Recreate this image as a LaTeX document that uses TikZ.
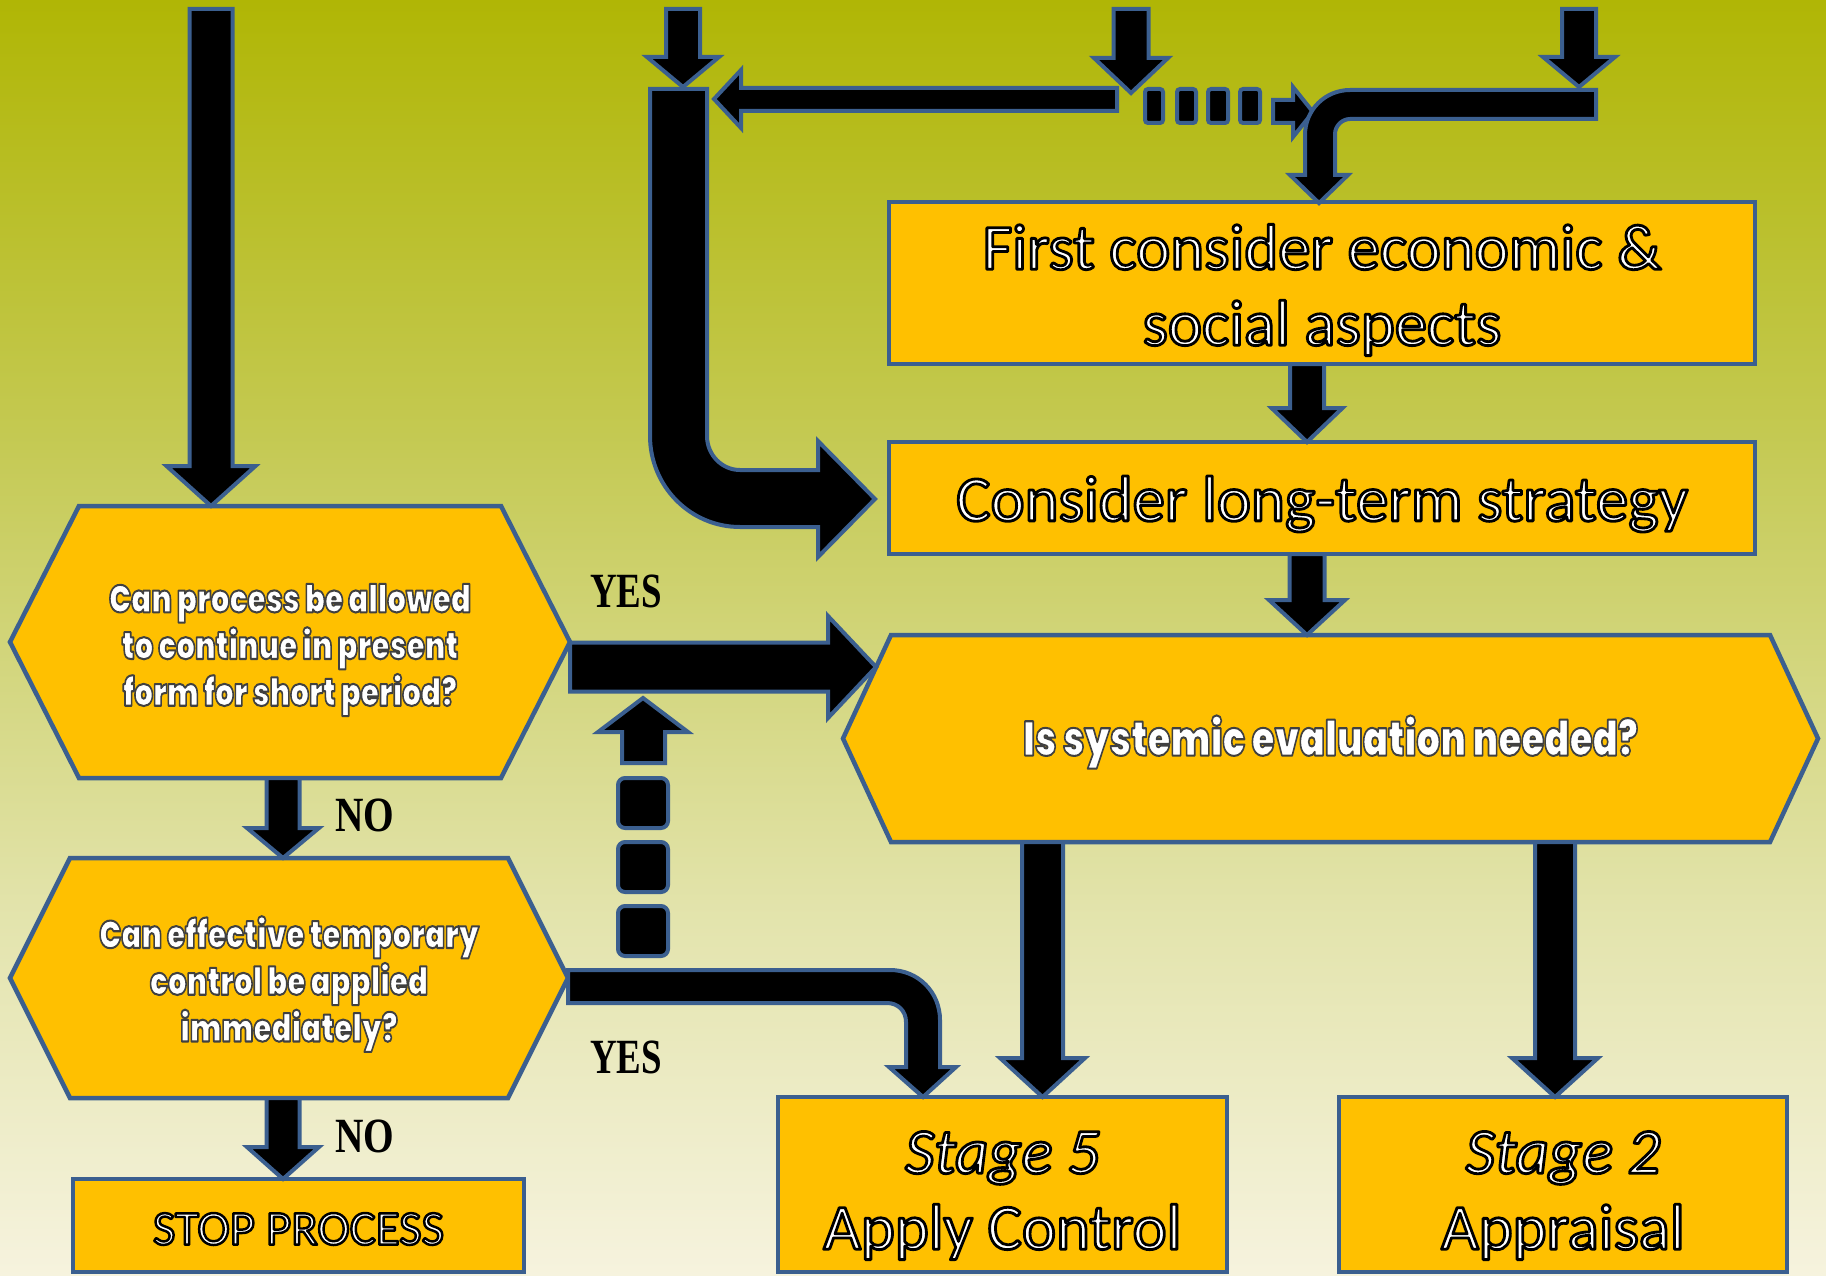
\documentclass[tikz,border=0pt]{standalone}
\usepackage{fontspec}
\usepackage{graphicx}
\usetikzlibrary{calc}
\setmainfont{Carlito}
\IfFontExistsTF{Poppins Black}{\newfontfamily\qfont{Poppins Black}}{%
 \IfFontExistsTF{Poppins ExtraBold}{\newfontfamily\qfont{Poppins ExtraBold}}{%
  \IfFontExistsTF{Lato Black}{\newfontfamily\qfont{Lato Black}}{%
   \IfFontExistsTF{Open Sans ExtraBold}{\newfontfamily\qfont{Open Sans ExtraBold}}{%
    \newfontfamily\qfont{Poppins}[UprightFont=*-Bold, BoldFont=*-Bold]}}}}
\newfontfamily\ynfont{Liberation Serif}
\definecolor{edge}{HTML}{3B5F8F}
\definecolor{gold}{HTML}{FFC000}
\definecolor{bgA}{HTML}{B0B605}
\definecolor{bgB}{HTML}{C5CA55}
\definecolor{bgC}{HTML}{E2E3AA}
\definecolor{bgD}{HTML}{F6F3DE}
\pgfdeclarelayer{bg}
\pgfdeclarelayer{back}
\pgfsetlayers{bg,back,main}
% vertical block arrow: #1 start (its y), #2 tip, #3 half shaft, #4 half head, #5 head length (px)
\newcommand\vblk[5]{%
 \filldraw[arr] let \p1=#1, \p2=#2 in
 (\x2-#3*0.1mm,\y1) -- (\x2+#3*0.1mm,\y1) -- (\x2+#3*0.1mm,\y2+#5*0.1mm) -- (\x2+#4*0.1mm,\y2+#5*0.1mm) -- (\x2,\y2) -- (\x2-#4*0.1mm,\y2+#5*0.1mm) -- (\x2-#3*0.1mm,\y2+#5*0.1mm) -- cycle;}
% horizontal block arrow to the right
\newcommand\hblk[5]{%
 \filldraw[arr] let \p1=#1, \p2=#2 in
 (\x1,\y2+#3*0.1mm) -- (\x2-#5*0.1mm,\y2+#3*0.1mm) -- (\x2-#5*0.1mm,\y2+#4*0.1mm) -- (\x2,\y2) -- (\x2-#5*0.1mm,\y2-#4*0.1mm) -- (\x2-#5*0.1mm,\y2-#3*0.1mm) -- (\x1,\y2-#3*0.1mm) -- cycle;}
\newcommand\hexof[2]{\draw[hexfill] (#1.west) -- ([xshift=#2]#1.north west) -- ([xshift=-#2]#1.north east) -- (#1.east) -- ([xshift=-#2]#1.south east) -- ([xshift=#2]#1.south west) -- cycle;}
% outlined text: fill white (current colour) and stroke with given grey
\newcommand\olw[2][0]{\special{pdf:literal direct #1 G #2 w 1 j 2 Tr}}
\newcommand\low[2]{\raisebox{-#1}[\height][\depth]{#2}}
\newcommand\ql[2]{\low{#1}{\scalebox{1}[1.3]{\olw[0.25]{0.45}#2}}}
\begin{document}
\begin{tikzpicture}[x=0.1mm,y=-0.1mm,
  box/.style={draw=edge, fill=gold, line width=0.45mm, inner sep=0pt, outer sep=0pt, text=white, align=center, font=\fontsize{18.4}{21.6}\selectfont},
  hexnode/.style={inner sep=0pt, outer sep=0pt, text=white, align=center},
  hexfill/.style={draw=edge, fill=gold, line width=0.45mm, line join=miter},
  arr/.style={draw=edge, fill=black, line width=0.4mm, line join=miter},
  qtext/.style={font=\qfont\fontsize{8.4}{13.3}\selectfont},
  yn/.style={font=\ynfont\bfseries\fontsize{14}{14}\selectfont, text=black, inner sep=0pt}]
\useasboundingbox (0,0) rectangle (1826,1275);
\begin{pgfonlayer}{bg}
\shade[top color=bgA, bottom color=bgB] (0,0) rectangle (1826,452);
\shade[top color=bgB, bottom color=bgC] (0,450) rectangle (1826,902);
\shade[top color=bgC, bottom color=bgD] (0,900) rectangle (1826,1275);
\end{pgfonlayer}

% boxes
\node[box, minimum width=86.6mm, minimum height=16.2mm] (b1) at (1322,283) {\olw{0.8}\low{0.7mm}{First consider economic \&}\\\low{0.7mm}{social aspects}};
\node[box, minimum width=86.6mm, minimum height=11.2mm] (b2) at (1322,498) {\olw{0.8}\low{0.6mm}{Consider long-term strategy}};
\node[box, minimum width=45.1mm, minimum height=9.3mm, font=\fontsize{13.9}{16}\selectfont] (stop) at (298.5,1225.5) {\olw{0.7}\low{0.35mm}{STOP PROCESS}};
\node[box, minimum width=44.9mm, minimum height=17.5mm] (s5) at (1002.5,1184.5) {\olw{0.8}\low{1.1mm}{\itshape Stage 5}\\\low{1.1mm}{Apply Control}};
\node[box, minimum width=44.8mm, minimum height=17.5mm] (s2) at (1563,1184.5) {\olw{0.8}\low{1.1mm}{\itshape Stage 2}\\\low{1.1mm}{Appraisal}};

% decision hexagons
\node[hexnode, qtext, minimum width=56mm, minimum height=27.2mm] (q1) at (290,642) {\ql{0.8mm}{Can process be allowed}\\\ql{0.8mm}{to continue in present}\\\ql{0.8mm}{form for short period?}};
\node[hexnode, qtext, minimum width=55.8mm, minimum height=24mm] (q2) at (289,978) {\ql{0.6mm}{Can effective temporary}\\\ql{0.6mm}{control be applied}\\\ql{0.6mm}{immediately?}};
\node[hexnode, qtext, font=\qfont\fontsize{10.6}{13}\selectfont, minimum width=97.5mm, minimum height=20.7mm] (q3) at (1330.5,738.5) {\ql{0.35mm}{Is systemic evaluation needed?}};
\begin{pgfonlayer}{back}
\hexof{q1}{6.9mm}
\hexof{q2}{6.0mm}
\hexof{q3}{4.8mm}
\end{pgfonlayer}

% labels
\node[yn] (yes1) at (626,591) {\scalebox{0.75}[1]{YES}};
\node[yn] (yes2) at (626,1057) {\scalebox{0.75}[1]{YES}};
\node[yn] (no1) at (365,815) {\scalebox{0.8}[1]{NO}};
\node[yn] (no2) at (365,1136) {\scalebox{0.8}[1]{NO}};

% free ends
\coordinate (in1) at (211,9);
\coordinate (in2) at (683,9);
\coordinate (in3) at (1131,9);
\coordinate (in4) at (1579,9);
\coordinate (j1) at (683,87);
\coordinate (j2) at (1131,93);
\coordinate (j3) at (1579,87);
\coordinate (yesTip) at (876,667);

% straight arrows
\vblk{(in1)}{(q1.north -| in1)}{21.5}{44.5}{40}
\vblk{(in2)}{(j1)}{17}{36}{30}
\vblk{(in3)}{(j2)}{17.5}{37}{35}
\vblk{(in4)}{(j3)}{17}{36}{30}
\vblk{(b1.south)}{([xshift=-1.5mm]b2.north)}{17}{35.5}{34}
\vblk{(b2.south)}{([xshift=-2.35mm]q3.north)}{17.5}{38}{35}
\vblk{(q1.south)}{([xshift=-0.6mm]q2.north)}{16.5}{36}{30}
\vblk{(q2.south)}{([xshift=-1.55mm]stop.north)}{16.5}{36}{32}
\vblk{(q3.south)}{([xshift=4mm]s5.north)}{20.5}{42.5}{39}
\vblk{(q3.south)}{([xshift=-0.8mm]s2.north)}{20}{43}{39}
\hblk{(q1.east)}{(yesTip)}{24.5}{51}{48}

% left-pointing arrow at top
\filldraw[arr] (1117,88) -- (741,88) -- (741,70) -- (714,99) -- (741,128) -- (741,111) -- (1117,111) -- cycle;

% big bent arrow into long-term strategy box
\filldraw[arr] (650,89) -- (707,89) -- (707,436)
  .. controls (707,455) and (722,470) .. (740,470) -- (818,470) -- (818,441) -- (875,499) -- (818,557) -- (818,527) -- (740,527)
  .. controls (690,527) and (650,486) .. (650,436) -- cycle;

% dashed arrow to the right at top
\foreach \xa/\xb in {1145/1163,1177/1196,1208/1228,1240/1260}
  \filldraw[arr, rounded corners=0.3mm] (\xa,89) rectangle (\xb,123);
\filldraw[arr] (1273,100) -- (1293,100) -- (1293,87) -- (1313,112) -- (1293,137) -- (1293,123) -- (1273,123) -- cycle;

% top-right bent arrow into first box
\filldraw[arr] (1596,90) -- (1350,90) .. controls (1325,90) and (1305,110) .. (1305,135) -- (1305,175) -- (1290,175) -- (1319,203) -- (1348,175) -- (1335,175) -- (1335,134)
  .. controls (1335,126) and (1342,119) .. (1350,119) -- (1596,119) -- cycle;

% dashed arrow upward
\foreach \ya/\yb in {778/828,842/892,906/956}
  \filldraw[arr, rounded corners=0.7mm] (618,\ya) rectangle (668,\yb);
\filldraw[arr] (622,763) -- (622,732) -- (598,732) -- (643,698) -- (688,732) -- (665,732) -- (665,763) -- cycle;

% curved arrow from second decision to Stage 5
\filldraw[arr] (q2.east |- 0,970) -- (890,970) .. controls (918,970) and (940,992) .. (940,1020) -- (940,1067) -- (956,1067) -- (923,1097) -- (889,1067) -- (906,1067) -- (906,1022)
  .. controls (906,1011) and (898,1003) .. (887,1003) -- (q2.east |- 0,1003) -- cycle;
\end{tikzpicture}
\end{document}
